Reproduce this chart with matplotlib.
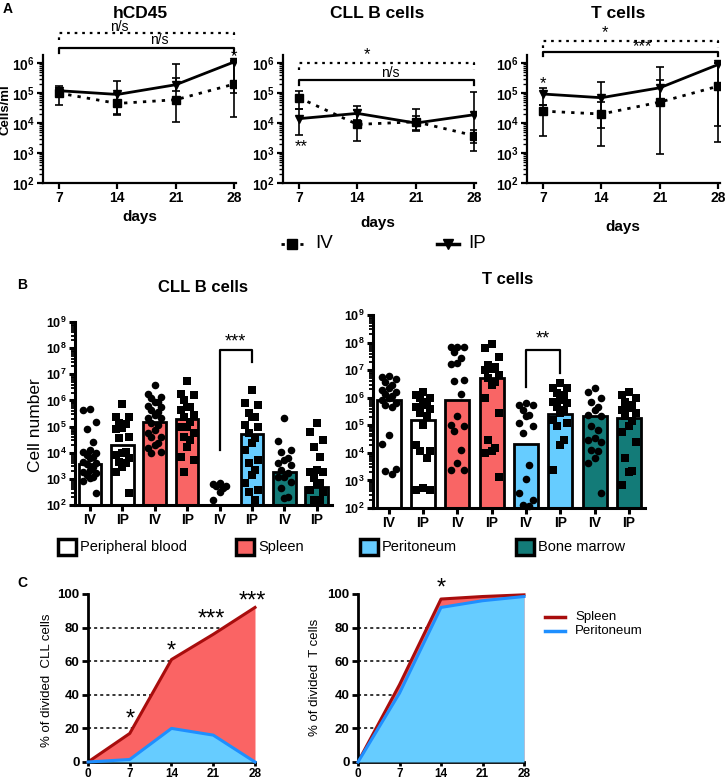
import numpy as np
import matplotlib
matplotlib.use("Agg")
import matplotlib.pyplot as plt
from matplotlib.lines import Line2D
from matplotlib.patches import Rectangle
from matplotlib.ticker import LogLocator, NullFormatter

plt.rcParams["font.family"] = ["Liberation Sans", "DejaVu Sans"]
plt.rcParams["mathtext.fontset"] = "custom"
plt.rcParams["mathtext.rm"] = "Liberation Sans"
plt.rcParams["mathtext.bf"] = "Liberation Sans:bold"

# ---------------- panel A : cells/ml over time ----------------
days = [7, 14, 21, 28]
a_titles = ["hCD45", "CLL B cells", "T cells"]

hcd45_iv = [1.0e5, 4.5e4, 6.0e4, 2.0e5]
hcd45_iv_lo = [4.0e4, 2.0e4, 1.1e4, 1.6e4]
hcd45_iv_hi = [1.5e5, 1.0e5, 3.2e5, 1.2e6]
hcd45_ip = [1.2e5, 9.0e4, 1.9e5, 1.1e6]
hcd45_ip_lo = [8.0e4, 1.8e4, 1.2e5, 1.0e5]
hcd45_ip_hi = [1.7e5, 2.6e5, 9.0e5, 1.2e6]

cll_iv = [7.0e4, 9.0e3, 1.1e4, 3.8e3]
cll_iv_lo = [3.0e4, 2.5e3, 5.5e3, 1.2e3]
cll_iv_hi = [1.2e5, 2.8e4, 1.7e4, 6.0e3]
cll_ip = [1.4e4, 2.1e4, 1.0e4, 1.9e4]
cll_ip_lo = [4.0e3, 1.3e4, 6.0e3, 2.2e3]
cll_ip_hi = [3.0e4, 3.6e4, 3.0e4, 1.1e5]

t_iv = [2.5e4, 2.0e4, 5.0e4, 1.7e5]
t_iv_lo = [3.8e3, 1.7e3, 9.0e2, 2.3e3]
t_iv_hi = [4.0e4, 5.0e4, 2.8e5, 1.0e6]
t_ip = [9.3e4, 7.0e4, 1.5e5, 9.0e5]
t_ip_lo = [4.0e4, 7.0e3, 5.0e4, 8.0e3]
t_ip_hi = [1.5e5, 2.3e5, 7.2e5, 1.0e6]

# ---------------- panel B : cell numbers per organ ----------------
routes = ["IV", "IP", "IV", "IP", "IV", "IP", "IV", "IP"]
tissues = ["Peripheral blood", "Spleen", "Peritoneum", "Bone marrow"]
tissue_colors = ["#FFFFFF", "#F96565", "#66CCFF", "#137B78"]

cll_bar = [3.6e3, 2.0e4, 1.5e5, 2.0e5, np.nan, 5.0e4, 1.8e3, 5.0e2]
# individual mice, log10 cell number
cll_pts_log = [
    [5.69, 5.18, 5.63, 4.89, 4.42, 4.10, 4.04, 3.91, 4.0, 3.85, 3.78, 3.66,
     3.62, 3.55, 3.46, 3.34, 3.27, 3.21, 3.15, 3.02, 2.93, 3.08, 2.45],
    [5.85, 5.38, 5.38, 5.12, 4.93, 5.10, 4.89, 4.61, 4.55, 4.04, 3.97, 3.78,
     3.91, 3.59, 3.66, 3.46, 3.27, 2.45],
    [6.59, 6.24, 6.14, 5.95, 5.95, 6.08, 5.76, 5.78, 5.57, 5.63, 5.44, 5.31,
     5.31, 5.12, 5.06, 4.87, 4.74, 4.61, 4.61, 4.36, 4.29, 4.04, 4.17, 3.97],
    [6.74, 6.20, 6.24, 5.76, 6.01, 5.63, 5.76, 5.38, 5.44, 5.18, 4.99, 4.99,
     4.74, 4.48, 4.61, 4.23, 3.85, 3.72, 3.27],
    [2.83, 2.80, 2.73, 2.64, 2.73, 2.51, 2.19],
    [6.39, 5.91, 5.82, 5.50, 5.38, 5.38, 4.99, 5.06, 4.74, 4.55, 4.36, 4.10,
     3.72, 3.59, 3.34, 3.15, 2.83, 2.51, 2.57, 2.19],
    [5.31, 4.46, 4.10, 4.04, 3.72, 3.78, 3.59, 3.53, 3.34, 3.21, 3.08, 3.08,
     2.89, 2.64, 2.25, 2.32],
    [5.12, 4.80, 4.48, 4.23, 3.85, 3.34, 3.27, 3.27, 3.02, 2.83, 2.83, 2.57,
     2.51, 2.19, 2.19],
]

t_bar = [8.0e5, 1.5e5, 8.0e5, 5.0e6, 2.1e4, 2.6e5, 2.2e5, 1.8e5]
t_pts_log = [
    [6.79, 6.74, 6.67, 6.58, 6.46, 6.34, 6.28, 6.22, 6.14, 6.07, 5.98, 5.92,
     5.80, 5.74, 5.68, 4.65, 4.33, 3.41, 3.24, 3.33],
    [6.22, 6.10, 5.98, 5.98, 5.86, 5.74, 5.68, 5.58, 5.44, 5.32, 5.02, 4.29,
     4.05, 4.05, 3.81, 2.72, 2.64, 2.66],
    [7.85, 7.85, 7.83, 7.67, 7.43, 7.25, 7.22, 6.64, 6.62, 6.14, 5.34, 5.02,
     4.98, 4.81, 4.11, 3.63, 3.39, 3.39],
    [7.95, 7.79, 7.49, 7.19, 7.13, 7.03, 7.01, 6.83, 6.70, 6.58, 6.46, 5.98,
     5.46, 4.47, 4.05, 3.99, 4.17, 3.12],
    [5.80, 5.74, 5.74, 5.56, 5.38, 5.32, 5.08, 4.96, 4.71, 3.57, 3.05, 2.54,
     2.30, 2.06, 2.12],
    [6.52, 6.34, 6.34, 6.16, 6.10, 5.92, 5.86, 5.80, 5.68, 5.56, 5.44, 5.20,
     5.08, 4.96, 4.45, 4.29, 3.39],
    [6.34, 6.22, 5.98, 5.86, 5.68, 5.56, 5.38, 5.32, 4.98, 4.83, 4.47, 4.53,
     4.38, 4.11, 4.05, 3.81, 3.63, 2.54],
    [6.22, 6.10, 5.98, 5.86, 5.74, 5.62, 5.56, 5.44, 5.32, 5.14, 4.96, 4.77,
     4.41, 3.81, 3.33, 3.29, 2.84],
]

# ---------------- panel C : % divided cells ----------------
c_days = [0, 7, 14, 21, 28]
c_cll_spleen = [0, 17, 61, 76, 92]
c_cll_perit = [0, 1.5, 20, 16, 0]
c_t_spleen = [0, 46, 97, 98.5, 99.5]
c_t_perit = [0, 41, 92, 96, 98.5]

W, H = 728, 781
fig = plt.figure(figsize=(W / 100, H / 100), dpi=100)


def px_axes(l, t, r, b):
    return fig.add_axes([l / W, 1 - b / H, (r - l) / W, (b - t) / H])


def ftext(x, y, s, **kw):
    kw.setdefault("ha", "center")
    kw.setdefault("va", "center")
    return fig.text(x / W, 1 - y / H, s, **kw)


def log_labels(lo, hi):
    return [r"$\mathbf{10^{%d}}$" % e for e in range(lo, hi + 1)]


def style_axes(ax, lw):
    for s in ["top", "right"]:
        ax.spines[s].set_visible(False)
    for s in ["left", "bottom"]:
        ax.spines[s].set_linewidth(lw)
    ax.tick_params(width=lw, length=4, direction="out", pad=2)
    ax.tick_params(which="minor", width=lw * 0.6, length=3)


# ---- A ----
a_axes = [px_axes(43, 55, 236, 183), px_axes(283, 55, 476, 183), px_axes(527, 55, 720, 183)]
a_data = [
    (hcd45_iv, hcd45_iv_lo, hcd45_iv_hi, hcd45_ip, hcd45_ip_lo, hcd45_ip_hi),
    (cll_iv, cll_iv_lo, cll_iv_hi, cll_ip, cll_ip_lo, cll_ip_hi),
    (t_iv, t_iv_lo, t_iv_hi, t_ip, t_ip_lo, t_ip_hi),
]
for ax, (iv, iv_lo, iv_hi, ip, ip_lo, ip_hi) in zip(a_axes, a_data):
    iv, ip = np.array(iv), np.array(ip)
    ax.set_yscale("log")
    ax.errorbar(days, iv, yerr=[iv - np.array(iv_lo), np.array(iv_hi) - iv],
                fmt="none", ecolor="k", elinewidth=1.2, capsize=3, capthick=1.2)
    ax.errorbar(days, ip, yerr=[ip - np.array(ip_lo), np.array(ip_hi) - ip],
                fmt="none", ecolor="k", elinewidth=1.2, capsize=3, capthick=1.2)
    ax.plot(days, iv, ls=(0, (1.2, 2.2)), color="k", lw=2, marker="s", ms=6)
    ax.plot(days, ip, ls="-", color="k", lw=2, marker="v", ms=6)
    ax.set_xlim(5.1, 28.2)
    ax.set_ylim(1e2, 10 ** 6.27)
    ax.set_xticks(days)
    ax.set_xticklabels([str(d) for d in days], fontweight="bold", fontsize=10)
    ax.set_yticks([10.0 ** e for e in range(2, 7)])
    ax.set_yticklabels(log_labels(2, 6), fontsize=10)
    ax.yaxis.set_minor_locator(LogLocator(base=10, subs=np.arange(2, 10), numticks=20))
    ax.yaxis.set_minor_formatter(NullFormatter())
    style_axes(ax, 1.6)


def bracket(ax, y, drop, dotted):
    ls = (0, (1.2, 2.2)) if dotted else "-"
    ax.plot([7, 7, 28, 28], [10 ** (y - drop), 10 ** y, 10 ** y, 10 ** (y - drop)],
            color="k", lw=1.6, ls=ls, clip_on=False)


# significance marks, panel A
bracket(a_axes[0], 7.0, 0.22, True)
bracket(a_axes[0], 6.5, 0.17, False)
a_axes[0].text(14.2, 10 ** 7.2, "n/s", ha="center", va="center", fontsize=10)
a_axes[0].text(19.0, 10 ** 6.77, "n/s", ha="center", va="center", fontsize=10)
a_axes[0].text(28, 10 ** 6.2, "*", ha="center", va="center", fontsize=12)

bracket(a_axes[1], 6.0, 0.22, True)
bracket(a_axes[1], 5.43, 0.15, False)
a_axes[1].text(15.2, 10 ** 6.27, "*", ha="center", va="center", fontsize=12)
a_axes[1].text(17.9, 10 ** 5.67, "n/s", ha="center", va="center", fontsize=10)
a_axes[1].text(7.3, 10 ** 3.2, "**", ha="center", va="center", fontsize=12)

bracket(a_axes[2], 6.73, 0.22, True)
bracket(a_axes[2], 6.37, 0.15, False)
a_axes[2].text(14.4, 10 ** 7.0, "*", ha="center", va="center", fontsize=12)
a_axes[2].text(18.9, 10 ** 6.55, "***", ha="center", va="center", fontsize=12)
a_axes[2].text(7, 10 ** 5.33, "*", ha="center", va="center", fontsize=12)

for (x, y), t in zip([(140, 13), (377, 13), (618, 13)], a_titles):
    ftext(x, y, t, fontsize=12.5, fontweight="bold")
for x, y in [(140, 217), (378, 223), (623, 227)]:
    ftext(x, y, "days", fontsize=11, fontweight="bold")
ftext(6, 110, "Cells/ml", fontsize=9.5, fontweight="bold", rotation=90)
ftext(8, 9, "A", fontsize=10, fontweight="bold")

# legend A
yl = 1 - 244 / H
fig.add_artist(Line2D([281 / W, 303 / W], [yl, yl], transform=fig.transFigure,
                      color="k", lw=2, ls=(0, (1.2, 2.2))))
fig.add_artist(Line2D([292 / W], [yl], transform=fig.transFigure, color="k",
                      marker="s", ms=7))
ftext(315, 244, "IV", fontsize=13.5, ha="left")
fig.add_artist(Line2D([437 / W, 459 / W], [yl, yl], transform=fig.transFigure,
                      color="k", lw=2.5))
fig.add_artist(Line2D([448 / W], [yl], transform=fig.transFigure, color="k",
                      marker="v", ms=7))
ftext(468, 244, "IP", fontsize=13.5, ha="left")

# ---- B ----
spread = [0.0, -0.2, 0.2, -0.1, 0.1]


def bar_panel(ax, bars, pts_log):
    x = np.arange(len(routes))
    ax.set_yscale("log")
    for i in range(len(routes)):
        if not np.isnan(bars[i]):
            ax.bar(x[i], bars[i], width=0.7, color=tissue_colors[i // 2],
                   edgecolor="k", lw=2, zorder=2)
        vals = np.sort(10 ** np.array(pts_log[i]))[::-1]
        offs = np.array([spread[k % len(spread)] for k in range(len(vals))])
        ax.scatter(x[i] + offs, vals, marker="o" if routes[i] == "IV" else "s",
                   s=30, c="k", zorder=3, clip_on=False, linewidths=0)
    ax.set_xlim(-0.46, 7.47)
    ax.set_ylim(1e2, 1e9)
    ax.set_xticks(x)
    ax.set_xticklabels(routes, fontweight="bold", fontsize=10)
    ax.set_yticks([10.0 ** e for e in range(2, 10)])
    ax.set_yticklabels(log_labels(2, 9), fontsize=9)
    ax.yaxis.set_minor_locator(LogLocator(base=10, subs=np.arange(2, 10), numticks=20))
    ax.yaxis.set_minor_formatter(NullFormatter())
    style_axes(ax, 2.2)


b_left = px_axes(75, 322, 332, 505)
b_right = px_axes(373, 315, 645, 508)
bar_panel(b_left, cll_bar, cll_pts_log)
bar_panel(b_right, t_bar, t_pts_log)

b_left.plot([4, 4, 5, 5], [10 ** 4.1, 10 ** 7.92, 10 ** 7.92, 10 ** 7.48], color="k", lw=1.6)
b_left.text(4.5, 10 ** 8.22, "***", ha="center", va="center", fontsize=13)
b_right.plot([4, 4, 5, 5], [10 ** 6.40, 10 ** 7.73, 10 ** 7.73, 10 ** 6.89], color="k", lw=1.6)
b_right.text(4.5, 10 ** 8.13, "**", ha="center", va="center", fontsize=13)

ftext(203, 288, "CLL B cells", fontsize=12, fontweight="bold")
ftext(508, 280, "T cells", fontsize=12, fontweight="bold")
ftext(35, 425, "Cell number", fontsize=12.5, rotation=90)
ftext(22, 285, "B", fontsize=10, fontweight="bold")

# legend B
for lx, name, col in zip([58, 236, 360, 516], tissues, tissue_colors):
    fig.add_artist(Rectangle((lx / W, 1 - 555 / H), 18 / W, 16 / H,
                             transform=fig.transFigure, facecolor=col,
                             edgecolor="k", lw=2.5))
    ftext(lx + 22, 547, name, fontsize=10.5, ha="left")

# ---- C ----
c_red, c_darkred = "#FA6464", "#A80D0D"
c_lblue, c_blue = "#66CCFF", "#1E8FFF"


def area_panel(ax, spleen, perit):
    for g in [20, 40, 60, 80]:
        ax.plot([0, 28], [g, g], color="k", lw=1.1, ls=(0, (2, 2)), zorder=0)
    ax.fill_between(c_days, spleen, color=c_red, lw=0, zorder=1)
    ax.plot(c_days, spleen, color=c_darkred, lw=2.2, zorder=2, clip_on=False)
    ax.fill_between(c_days, perit, color=c_lblue, lw=0, zorder=3)
    ax.plot(c_days, perit, color=c_blue, lw=2.2, zorder=4, clip_on=False)
    ax.set_xlim(0, 28)
    ax.set_ylim(0, 100)
    ax.set_xticks(c_days)
    ax.set_xticklabels([str(d) for d in c_days], fontweight="bold", fontsize=8.5)
    ax.set_yticks([0, 20, 40, 60, 80, 100])
    ax.set_yticklabels(["0", "20", "40", "60", "80", "100"], fontweight="bold", fontsize=9.5)
    style_axes(ax, 2.0)
    ax.tick_params(axis="x", length=3, pad=1)


c_left = px_axes(88, 594, 255, 762)
c_right = px_axes(358, 594, 524, 762)
area_panel(c_left, c_cll_spleen, c_cll_perit)
area_panel(c_right, c_t_spleen, c_t_perit)

for x, y, s in [(7, 25, "*"), (14, 66, "*"), (20.7, 85, "***"), (27.5, 95.5, "***")]:
    c_left.text(x, y, s, ha="center", va="center", fontsize=17, clip_on=False)
c_right.text(14, 103, "*", ha="center", va="center", fontsize=17, clip_on=False)

ftext(47, 680, "% of divided  CLL cells", fontsize=9.5, rotation=90)
ftext(315, 677, "% of divided  T cells", fontsize=9.5, rotation=90)
ftext(22, 583, "C", fontsize=10, fontweight="bold")

# legend C
for yy, name, col in [(617, "Spleen", c_darkred), (631, "Peritoneum", c_blue)]:
    fig.add_artist(Line2D([545 / W, 565 / W], [1 - yy / H] * 2,
                          transform=fig.transFigure, color=col, lw=2.5))
    ftext(575, yy, name, fontsize=9.5, ha="left")

fig.savefig("out.png", dpi=100)
